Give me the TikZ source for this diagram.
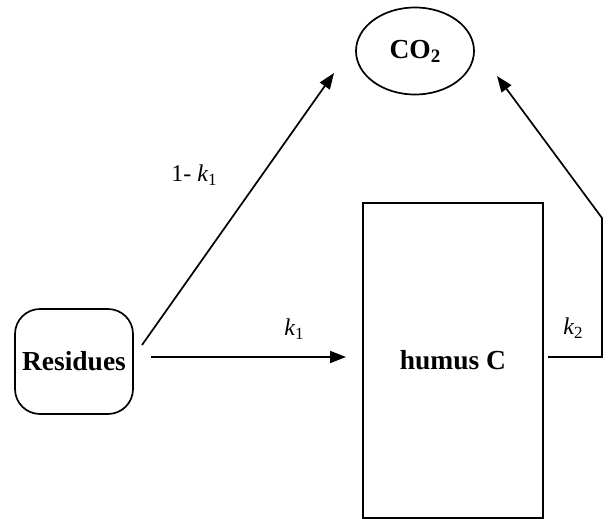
\documentclass[tikz,border=0pt]{standalone}
\usepackage{fontspec}
\setmainfont{Liberation Serif}
\usetikzlibrary{shapes.geometric,arrows.meta}
\tikzset{
  boxfont/.style={font=\fontsize{27.5}{30}\selectfont\bfseries},
  lblfont/.style={font=\fontsize{24}{26}\selectfont},
  line/.style={line width=1.7pt},
  arr/.style={line width=1.7pt,-{Triangle[length=16pt,width=12pt]}},
}
\newcommand{\ksub}[1]{{\itshape k}\raisebox{-4pt}{\fontsize{17}{17}\selectfont #1}}
\begin{document}
\begin{tikzpicture}[x=1pt,y=-1pt]
\useasboundingbox (0,0) rectangle (610,519);
\node[draw,line,ellipse,inner sep=0pt,minimum width=118pt,minimum height=87pt,boxfont] (co2) at (415,51) {CO\raisebox{-4pt}{\fontsize{19}{19}\selectfont\bfseries 2}};
\node[draw,line,rounded corners=25pt,inner sep=0pt,minimum width=118pt,minimum height=105pt,boxfont] (res) at (74,361.5) {Residues};
\node[draw,line,inner sep=0pt,minimum width=180pt,minimum height=315pt,boxfont] (hum) at (453,360.5) {humus C};
\coordinate (a1) at (142,345);
\coordinate (a1t) at (334,73);
\coordinate (b1) at (151,357);
\coordinate (b1t) at (346,357);
\coordinate (c1) at (548,357);
\coordinate (c2) at (602,357);
\coordinate (c3) at (602,218);
\coordinate (c1t) at (497,76);
\draw[arr] (a1) -- (a1t);
\draw[arr] (b1) -- (b1t);
\draw[arr,line join=miter] (c1) -- (c2) -- (c3) -- (c1t);
\node[lblfont,anchor=base] (l1) at (194,181) {1- \ksub{1}};
\node[lblfont,anchor=base] (l2) at (294,335) {\ksub{1}};
\node[lblfont,anchor=base] (l3) at (573,334) {\ksub{2}};
\end{tikzpicture}
\end{document}
